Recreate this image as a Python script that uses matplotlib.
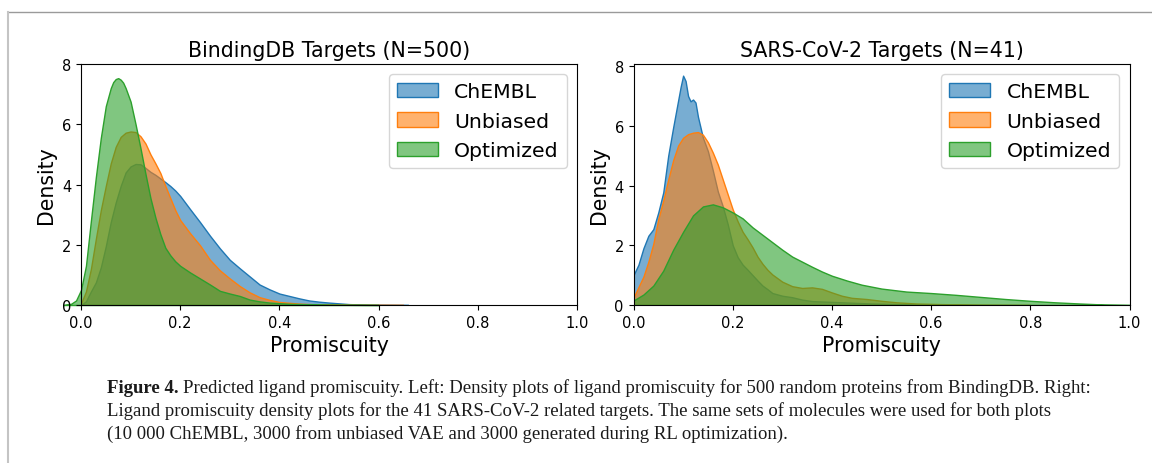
import matplotlib.pyplot as plt
from matplotlib.colors import to_rgba
from matplotlib.lines import Line2D

plt.rcParams['font.family'] = 'DejaVu Sans'

# ---- BindingDB panel (density values) ----
bdb_chembl_x = [0.0, 0.01, 0.02, 0.03, 0.04, 0.05, 0.06, 0.07, 0.08, 0.09, 0.10, 0.11, 0.12, 0.13,
                0.14, 0.15, 0.16, 0.17, 0.18, 0.19, 0.20, 0.22, 0.24, 0.26, 0.28, 0.30, 0.32, 0.34,
                0.36, 0.38, 0.40, 0.42, 0.44, 0.46, 0.48, 0.50, 0.54, 0.58, 0.62, 0.66]
bdb_chembl_d = [0.0, 0.12, 0.45, 0.75, 1.25, 1.95, 2.75, 3.4, 3.95, 4.4, 4.6, 4.68, 4.67, 4.55,
                4.42, 4.32, 4.2, 4.08, 3.95, 3.8, 3.62, 3.18, 2.75, 2.3, 1.88, 1.5, 1.22, 0.95,
                0.68, 0.52, 0.38, 0.3, 0.22, 0.15, 0.11, 0.08, 0.03, 0.01, 0.005, 0.0]

bdb_unbiased_x = [0.0, 0.01, 0.02, 0.03, 0.04, 0.05, 0.06, 0.07, 0.08, 0.09, 0.10, 0.11, 0.12, 0.13,
                  0.14, 0.15, 0.16, 0.17, 0.18, 0.19, 0.20, 0.22, 0.24, 0.26, 0.28, 0.30, 0.32, 0.34,
                  0.36, 0.38, 0.40, 0.44, 0.48, 0.55, 0.65]
bdb_unbiased_d = [0.05, 0.45, 1.2, 2.2, 3.15, 3.95, 4.7, 5.25, 5.58, 5.72, 5.76, 5.74, 5.6, 5.36,
                  5.0, 4.7, 4.38, 3.95, 3.55, 3.15, 2.82, 2.38, 1.98, 1.5, 1.15, 0.88, 0.63, 0.42,
                  0.26, 0.17, 0.1, 0.045, 0.02, 0.005, 0.0]

bdb_optimized_x = [-0.035, -0.02, -0.01, 0.0, 0.01, 0.02, 0.03, 0.04, 0.05, 0.06, 0.065, 0.07, 0.075,
                   0.08, 0.085, 0.09, 0.10, 0.11, 0.12, 0.13, 0.14, 0.15, 0.16, 0.17, 0.18, 0.19,
                   0.20, 0.22, 0.24, 0.26, 0.28, 0.30, 0.32, 0.34, 0.36, 0.38, 0.42, 0.50, 0.60]
bdb_optimized_d = [0.0, 0.04, 0.15, 0.5, 1.3, 2.8, 4.25, 5.55, 6.6, 7.2, 7.4, 7.5, 7.53,
                   7.48, 7.38, 7.2, 6.75, 6.0, 5.2, 4.35, 3.55, 2.9, 2.35, 1.9, 1.65, 1.45,
                   1.3, 1.08, 0.88, 0.68, 0.47, 0.38, 0.3, 0.18, 0.12, 0.08, 0.04, 0.01, 0.0]

# ---- SARS-CoV-2 panel ----
sars_chembl_x = [0.0, 0.01, 0.02, 0.03, 0.04, 0.05, 0.06, 0.07, 0.08, 0.09, 0.095, 0.10, 0.105, 0.11,
                 0.115, 0.12, 0.125, 0.13, 0.14, 0.15, 0.16, 0.17, 0.18, 0.19, 0.20, 0.21, 0.22,
                 0.23, 0.24, 0.25, 0.26, 0.27, 0.28, 0.30, 0.32, 0.34, 0.36, 0.39, 0.42, 0.45,
                 0.48, 0.55, 0.65]
sars_chembl_d = [1.0, 1.35, 1.9, 2.32, 2.54, 3.1, 3.77, 5.0, 5.95, 6.85, 7.3, 7.68, 7.5, 7.0,
                 6.82, 6.88, 6.78, 6.3, 5.6, 5.15, 4.5, 3.8, 3.3, 2.7, 2.0, 1.6, 1.35,
                 1.18, 1.0, 0.82, 0.65, 0.53, 0.4, 0.31, 0.26, 0.18, 0.13, 0.11, 0.09, 0.07,
                 0.05, 0.02, 0.0]

sars_unbiased_x = [0.0, 0.01, 0.02, 0.03, 0.04, 0.05, 0.06, 0.07, 0.08, 0.09, 0.10, 0.11, 0.12, 0.13,
                   0.14, 0.15, 0.16, 0.17, 0.18, 0.19, 0.20, 0.21, 0.22, 0.23, 0.24, 0.25, 0.26,
                   0.27, 0.28, 0.30, 0.32, 0.34, 0.36, 0.38, 0.40, 0.42, 0.44, 0.47, 0.50, 0.53,
                   0.57, 0.62, 0.70, 0.80]
sars_unbiased_d = [0.25, 0.6, 0.95, 1.45, 2.05, 2.88, 3.5, 4.2, 4.85, 5.34, 5.6, 5.72, 5.77, 5.79,
                   5.7, 5.45, 5.1, 4.7, 4.2, 3.7, 3.2, 2.8, 2.45, 2.2, 1.93, 1.62, 1.38,
                   1.18, 1.02, 0.78, 0.63, 0.57, 0.59, 0.54, 0.42, 0.31, 0.24, 0.2, 0.14, 0.09,
                   0.05, 0.03, 0.01, 0.0]

sars_optimized_x = [0.0, 0.02, 0.04, 0.06, 0.08, 0.10, 0.12, 0.14, 0.16, 0.18, 0.20, 0.22, 0.24,
                    0.26, 0.28, 0.30, 0.32, 0.34, 0.36, 0.38, 0.40, 0.43, 0.46, 0.50, 0.55, 0.60,
                    0.65, 0.70, 0.75, 0.80, 0.85, 0.90, 0.95, 1.0]
sars_optimized_d = [0.15, 0.35, 0.65, 1.15, 1.85, 2.45, 3.0, 3.3, 3.37, 3.27, 3.1, 2.9, 2.6,
                    2.35, 2.1, 1.85, 1.62, 1.45, 1.28, 1.12, 0.98, 0.82, 0.68, 0.55, 0.45, 0.4,
                    0.34, 0.27, 0.2, 0.14, 0.09, 0.05, 0.015, 0.0]

series_names = ['ChEMBL', 'Unbiased', 'Optimized']
series_colors = ['tab:blue', 'tab:orange', 'tab:green']

caption_bold = "Figure 4."
caption_lines = [
    "Predicted ligand promiscuity. Left: Density plots of ligand promiscuity for 500 random proteins from BindingDB. Right:",
    "Ligand promiscuity density plots for the 41 SARS-CoV-2 related targets. The same sets of molecules were used for both plots",
    "(10 000 ChEMBL, 3000 from unbiased VAE and 3000 generated during RL optimization).",
]


def draw_panel(ax, curves, title, ytop, unclipped=()):
    for name, color, (xs, ds) in zip(series_names, series_colors, curves):
        poly = ax.fill_between(xs, ds, 0, facecolor=to_rgba(color, 0.6),
                               edgecolor=color, linewidth=1.0, label=name)
        if name in unclipped:
            poly.set_clip_on(False)
    ax.set_xlim(0, 1)
    ax.set_ylim(0, ytop)
    ax.set_xticks([0.0, 0.2, 0.4, 0.6, 0.8, 1.0])
    ax.set_yticks([0, 2, 4, 6, 8])
    ax.tick_params(labelsize=10.5)
    ax.set_title(title, fontsize=14.8)
    ax.set_xlabel('Promiscuity', fontsize=14.8)
    ax.set_ylabel('Density', fontsize=14.8)
    ax.legend(loc='upper right', fontsize=14.7)


fig = plt.figure(figsize=(11.52, 4.64), dpi=100)
W, H = 1152, 464
ax1 = fig.add_axes([81 / W, 158 / H, 496 / W, 241 / H])
ax2 = fig.add_axes([633.5 / W, 158 / H, 496 / W, 241 / H])

draw_panel(ax1, [(bdb_chembl_x, bdb_chembl_d), (bdb_unbiased_x, bdb_unbiased_d),
                 (bdb_optimized_x, bdb_optimized_d)],
           'BindingDB Targets (N=500)', 8, unclipped=('Optimized',))
draw_panel(ax2, [(sars_chembl_x, sars_chembl_d), (sars_unbiased_x, sars_unbiased_d),
                 (sars_optimized_x, sars_optimized_d)],
           'SARS-CoV-2 Targets (N=41)', 8.07)

# page frame lines (top and left)
fig.add_artist(Line2D([8 / W, 1], [1 - 13 / H, 1 - 13 / H], color='#9a9a9a', lw=1.0))
fig.add_artist(Line2D([8 / W, 8 / W], [0, 1 - 13 / H], color='#c4c4c4', lw=1.5))

# caption
cap_x = 107 / W
base = [(H - 393) / H, (H - 416) / H, (H - 439) / H]
cap_font = dict(family='Liberation Serif', fontsize=13.5, color='#1a1a1a', va='baseline', ha='left')
t_bold = fig.text(cap_x, base[0], caption_bold, fontweight='bold', **cap_font)
fig.canvas.draw()
bb = t_bold.get_window_extent(renderer=fig.canvas.get_renderer())
fig.text(bb.x1 / W + 4 / W, base[0], caption_lines[0], **cap_font)
fig.text(cap_x, base[1], caption_lines[1], **cap_font)
fig.text(cap_x, base[2], caption_lines[2], **cap_font)

fig.savefig('out.png', dpi=100)
